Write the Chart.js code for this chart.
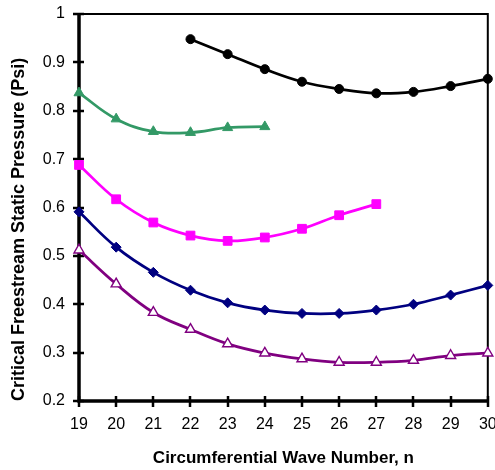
<!DOCTYPE html>
<html>
<head>
<meta charset="utf-8">
<script src="https://cdn.jsdelivr.net/npm/chart.js@4.4.0/dist/chart.umd.min.js"></script>
<style>
  html, body { margin: 0; padding: 0; background: #fff; }
  #wrap { width: 495px; height: 470px; }
</style>
</head>
<body>
<div id="wrap"><canvas id="PressureChart" width="495" height="470"></canvas></div>
<script>
// wave numbers n
const waveBlack = [22, 23, 24, 25, 26, 27, 28, 29, 30];
const waveGreen = [19, 20, 21, 22, 23, 24];
const waveMagenta = [19, 20, 21, 22, 23, 24, 25, 26, 27];
const waveNavy = [19, 20, 21, 22, 23, 24, 25, 26, 27, 28, 29, 30];
const wavePurple = [19, 20, 21, 22, 23, 24, 25, 26, 27, 28, 29, 30];

// critical pressure (psi)
const pBlack = [0.948, 0.917, 0.886, 0.860, 0.845, 0.836, 0.839, 0.851, 0.866];
const pGreen = [0.837, 0.783, 0.757, 0.755, 0.765, 0.767];
const pMagenta = [0.688, 0.617, 0.569, 0.542, 0.531, 0.538, 0.556, 0.584, 0.607];
const pNavy = [0.591, 0.518, 0.466, 0.429, 0.403, 0.388, 0.381, 0.381, 0.388, 0.400, 0.419, 0.439];
const pPurple = [0.512, 0.442, 0.383, 0.348, 0.318, 0.299, 0.287, 0.280, 0.280, 0.284, 0.294, 0.299];

const xTicks = [19, 20, 21, 22, 23, 24, 25, 26, 27, 28, 29, 30];
const yTicks = [0.2, 0.3, 0.4, 0.5, 0.6, 0.7, 0.8, 0.9, 1];

function pts(xs, ys) {
    return xs.map((x, i) => ({ x: x, y: ys[i] }));
}

function series(xs, ys, color, style, radius, fill) {
    return {
        data: pts(xs, ys),
        borderColor: color,
        backgroundColor: fill || color,
        borderWidth: 2.75,
        pointStyle: style,
        pointRadius: radius,
        pointBorderColor: color,
        pointBackgroundColor: fill || color,
        pointBorderWidth: fill ? 1.4 : 1,
        tension: 0.4,
        clip: false
    };
}

// frame and crossing ticks like the excel chart (under the lines)
const framePlugin = {
    id: 'frame',
    beforeDatasetsDraw(chart) {
        const ctx = chart.ctx;
        const a = chart.chartArea;
        const xs = chart.scales.x, ys = chart.scales.y;
        ctx.save();
        ctx.strokeStyle = '#000';
        ctx.lineWidth = 2;
        ctx.beginPath();
        ctx.moveTo(a.left, a.top);
        ctx.lineTo(a.right, a.top);
        ctx.lineTo(a.right, a.bottom);
        ctx.stroke();
        ctx.lineWidth = 3.5;
        ctx.beginPath();
        ctx.moveTo(a.left, a.top);
        ctx.lineTo(a.left, a.bottom);
        ctx.lineTo(a.right, a.bottom);
        ctx.stroke();
        ctx.lineWidth = 2.5;
        ctx.beginPath();
        yTicks.forEach(v => {
            const py = Math.round(ys.getPixelForValue(v));
            ctx.moveTo(a.left - 6, py);
            ctx.lineTo(a.left + 5, py);
        });
        xTicks.forEach(v => {
            const px = Math.round(xs.getPixelForValue(v));
            ctx.moveTo(px, a.bottom - 5);
            ctx.lineTo(px, a.bottom + 6);
        });
        ctx.stroke();
        ctx.restore();
    }
};

const ctx = document.getElementById('PressureChart');
new Chart(ctx, {
    type: 'line',
    data: {
        datasets: [
            series(waveBlack, pBlack, '#000000', 'circle', 4.5),
            series(waveGreen, pGreen, '#339966', 'triangle', 5.8),
            series(waveMagenta, pMagenta, '#ff00ff', 'rect', 6.2),
            series(waveNavy, pNavy, '#000080', 'rectRot', 5),
            series(wavePurple, pPurple, '#800080', 'triangle', 5.8, '#ffffff')
        ]
    },
    options: {
        responsive: false,
        animation: false,
        layout: { padding: { left: 0, right: 6, top: 14, bottom: 0 } },
        plugins: {
            legend: { display: false },
            tooltip: { enabled: false }
        },
        scales: {
            x: {
                type: 'linear',
                min: 19,
                max: 30,
                afterBuildTicks: s => { s.ticks = xTicks.map(v => ({ value: v })); },
                afterFit: s => { s.height = 69; s.paddingLeft = 0; s.paddingRight = 0; },
                grid: { display: false, drawTicks: false },
                border: { display: false },
                ticks: {
                    color: '#000',
                    padding: 14,
                    maxRotation: 0,
                    font: { family: 'Liberation Sans', size: 16 }
                },
                title: {
                    display: true,
                    text: 'Circumferential Wave Number, n',
                    color: '#000',
                    padding: { top: 4, bottom: 1 },
                    font: { family: 'Liberation Sans', size: 17, weight: 'bold' }
                }
            },
            y: {
                min: 0.2,
                max: 1,
                afterBuildTicks: s => { s.ticks = yTicks.map(v => ({ value: v })); },
                afterFit: s => { s.width = 79; s.paddingTop = 0; s.paddingBottom = 0; },
                grid: { display: false, drawTicks: false },
                border: { display: false },
                ticks: {
                    color: '#000',
                    padding: 14,
                    font: { family: 'Liberation Sans', size: 16 },
                    callback: v => String(Math.round(v * 10) / 10)
                },
                title: {
                    display: true,
                    text: 'Critical Freestream Static Pressure (Psi)',
                    align: 'start',
                    color: '#000',
                    padding: { top: 8, bottom: 2 },
                    font: { family: 'Liberation Sans', size: 18, weight: 'bold' }
                }
            }
        }
    },
    plugins: [framePlugin]
});
</script>
</body>
</html>
